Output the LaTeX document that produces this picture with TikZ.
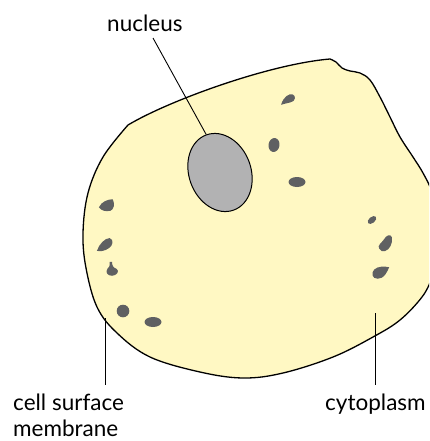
\documentclass[tikz,border=0pt]{standalone}
\usepackage{fontspec}
\setmainfont{Lato}
\usetikzlibrary{shapes.geometric}
\definecolor{cellfill}{HTML}{FFF8C3}
\definecolor{nucfill}{HTML}{B2B2B3}
\definecolor{organelle}{HTML}{5F6062}
\tikzset{
  membrane/.style={draw=black, line width=1.3pt, fill=cellfill, line join=round},
  nucleusbody/.style={ellipse, draw=black, line width=1pt, fill=nucfill,
    inner sep=0pt, minimum width=62pt, minimum height=80pt},
  blob/.style={fill=organelle, draw=none},
  leader/.style={draw=black, line width=0.9pt},
  lbl/.style={inner sep=0pt, font=\fontsize{22.5}{27}\selectfont, text=black}
}
\begin{document}
\begin{tikzpicture}[x=1pt, y=-1pt]
\useasboundingbox (0,0) rectangle (429,441);
\begin{scope}
\clip (0,0) rectangle (429,441);
% cell outline with the cytoplasm
\path[membrane] (128,125) .. controls (170,100) and (270,64) .. (330,59)
  -- plot[smooth, tension=0.6] coordinates {(330,59) (336,62) (342,68) (350,71)
     (360,73) (370,80) (380,97) (390,117) (400,137) (413,157) (423,173) (432,192)
     (440,222) (440,255) (432,278) (422,297) (400,320) (373,337) (333,357)
     (283,373) (243,378) (200,372) (150,357) (117,333) (97,307) (86,268)
     (83,233) (88,193) (103,157) (128,125)} -- cycle;
\end{scope}

% nucleus
\node[nucleusbody, rotate=20] (nuc) at (220,172.5) {};

% organelles scattered in the cytoplasm
\path[blob, scale around={1.15:(288,99)}] (282,104) .. controls (284,97) and (289,94) .. (292,95)
  .. controls (295,96) and (295,101) .. (290,102)
  .. controls (287,103) and (284,103) .. cycle;
\path[blob, rotate around={-10:(274,145)}] (274,145) ellipse [x radius=5.5, y radius=7];
\path[blob] (297,182) ellipse [x radius=8.5, y radius=5];
\path[blob, scale around={1.15:(107,205)}] (100,207) .. controls (102,202) and (108,200) .. (112,200)
  .. controls (114,204) and (113,209) .. (110,210)
  .. controls (106,211) and (102,210) .. cycle;
\path[blob, scale around={1.15:(105,245)}] (98,250) .. controls (100,244) and (105,239) .. (109,239)
  .. controls (113,240) and (112,246) .. (108,248)
  .. controls (105,250) and (101,251) .. cycle;
\path[blob, scale around={1.15:(112,270)}] (110,263) -- (112,263) .. controls (112,266) and (113,268) .. (116,269)
  .. controls (119,271) and (116,275) .. (112,275)
  .. controls (108,275) and (106,272) .. (108,269)
  .. controls (110,268) and (110,266) .. cycle;
\path[blob] (123,311) circle [radius=6.3];
\path[blob] (153,322) ellipse [x radius=8.5, y radius=5];
\path[blob, rotate around={40:(372,220)}] (372,220) ellipse [x radius=5, y radius=3];
\path[blob, scale around={1.15:(385,243)}] (380,248) .. controls (378,245) and (382,243) .. (384,240)
  .. controls (386,236) and (390,235) .. (391,238)
  .. controls (392,243) and (389,249) .. (385,250)
  .. controls (383,251) and (381,250) .. cycle;
\path[blob, scale around={1.15:(380,273)}] (388,268) .. controls (386,272) and (384,278) .. (378,278)
  .. controls (373,278) and (372,273) .. (375,270)
  .. controls (378,267) and (384,267) .. cycle;

% labels
\node[lbl, anchor=base west] (nuclbl) at (107,32) {nucleus};
\node[lbl, anchor=base west] (memlbl) at (13,410) {cell surface};
\node[lbl, anchor=base west] (memlbl2) at (13,436) {membrane};
\node[lbl, anchor=base west] (cytlbl) at (325,410) {cytoplasm};

% leader lines
\coordinate (nucTail) at (153,38);
\coordinate (memTop) at (105,318);
\coordinate (memFoot) at (105,385);
\coordinate (cytTop) at (375,313);
\coordinate (cytFoot) at (375,385);
\draw[leader] (nucTail) -- (nuc.north);
\draw[leader] (memTop) -- (memFoot);
\draw[leader] (cytTop) -- (cytFoot);
\end{tikzpicture}
\end{document}
